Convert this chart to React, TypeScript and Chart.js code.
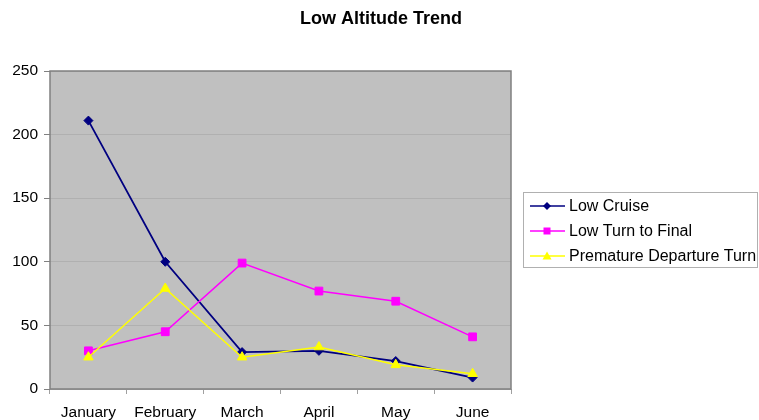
import React, { useEffect, useRef } from "react";
import { Chart, registerables } from "chart.js";

Chart.register(...registerables);

const title = "Low Altitude Trend";
const months = ["January", "February", "March", "April", "May", "June"];
const lowCruise = [211, 100, 29, 30, 22, 9];
const lowTurnToFinal = [30, 45, 99, 77, 69, 41];
const prematureDepartureTurn = [25, 79, 25, 33, 19, 12];
const seriesNames = ["Low Cruise", "Low Turn to Final", "Premature Departure Turn"];
const seriesColors = ["#000080", "#FF00FF", "#FFFF00"];
const seriesMarkers = ["rectRot", "rect", "triangle"];
const yTicks = [0, 50, 100, 150, 200, 250];

const FONT = '"Liberation Sans", Arial, sans-serif';

export default function App() {
  const ref = useRef<HTMLCanvasElement | null>(null);

  useEffect(() => {
    const canvas = ref.current;
    if (!canvas) return;

    const decor = {
      id: "decor",
      beforeDraw(chart: any) {
        const { ctx, chartArea: a } = chart;
        ctx.save();
        ctx.fillStyle = "#ffffff";
        ctx.fillRect(0, 0, chart.width, chart.height);
        ctx.fillStyle = "#C0C0C0";
        ctx.fillRect(a.left, a.top, a.right - a.left, a.bottom - a.top);
        ctx.restore();
      },
      beforeDatasetsDraw(chart: any) {
        const { ctx, chartArea: a } = chart;
        ctx.save();
        ctx.strokeStyle = "#808080";
        ctx.lineWidth = 1.5;
        ctx.strokeRect(a.left, a.top, a.right - a.left, a.bottom - a.top);
        ctx.restore();
      },
      afterDraw(chart: any) {
        const { ctx } = chart;
        ctx.save();
        // title
        ctx.fillStyle = "#000";
        ctx.font = "bold 18px " + FONT;
        ctx.textAlign = "center";
        ctx.textBaseline = "middle";
        ctx.fillText(title, 381, 19);
        // legend
        const lx = 523.5, ly = 192.5, lw = 234, lh = 75;
        ctx.strokeStyle = "#b0b0b0";
        ctx.lineWidth = 1;
        ctx.strokeRect(lx, ly, lw, lh);
        ctx.font = "16px " + FONT;
        ctx.textAlign = "left";
        const rows = [206, 231, 256];
        chart.data.datasets.forEach((ds: any, i: number) => {
          const y = rows[i];
          ctx.strokeStyle = ds.borderColor;
          ctx.lineWidth = 1.5;
          ctx.beginPath();
          ctx.moveTo(530, y);
          ctx.lineTo(565, y);
          ctx.stroke();
          ctx.fillStyle = ds.pointBackgroundColor;
          const m = ds.pointStyle;
          ctx.beginPath();
          if (m === "rectRot") {
            ctx.moveTo(547, y - 4); ctx.lineTo(551, y); ctx.lineTo(547, y + 4); ctx.lineTo(543, y);
          } else if (m === "rect") {
            ctx.rect(543.5, y - 3.5, 7, 7);
          } else {
            ctx.moveTo(547, y - 4.5); ctx.lineTo(551.5, y + 3.5); ctx.lineTo(542.5, y + 3.5);
          }
          ctx.closePath();
          ctx.fill();
          ctx.fillStyle = "#000";
          ctx.textBaseline = "middle";
          ctx.fillText(ds.label, 569, y + 1);
        });
        ctx.restore();
      },
    };

    const datasets = [lowCruise, lowTurnToFinal, prematureDepartureTurn].map((d, i) => ({
      label: seriesNames[i],
      data: d,
      borderColor: seriesColors[i],
      backgroundColor: seriesColors[i],
      pointBackgroundColor: seriesColors[i],
      pointBorderColor: seriesColors[i],
      pointStyle: seriesMarkers[i],
      pointRadius: i === 0 ? 4.5 : i === 1 ? 5.5 : 5.5,
      borderWidth: i === 0 ? 1.8 : 1.5,
      pointBorderWidth: 1,
      tension: 0,
      order: 2 - i,
    }));

    const chart = new Chart(canvas, {
      type: "line",
      data: { labels: months, datasets },
      plugins: [decor],
      options: {
        animation: false,
        responsive: false,
        devicePixelRatio: 1,
        layout: { padding: { top: 71, right: 248, left: 0, bottom: 0 } },
        plugins: {
          legend: { display: false },
          title: { display: false },
          tooltip: { enabled: false },
        },
        scales: {
          x: {
            type: "category",
            offset: true,
            afterFit(scale: any) { scale.height = 31; },
            grid: {
              offset: true,
              drawOnChartArea: false,
              drawTicks: true,
              tickLength: 5,
              color: "#a0a0a0",
            },
            border: { display: false },
            ticks: {
              color: "#000",
              font: { family: FONT, size: 15.5 },
              padding: 9,
              maxRotation: 0,
              autoSkip: false,
            },
          },
          y: {
            min: 0,
            max: 250,
            afterFit(scale: any) { scale.width = 50; },
            afterBuildTicks(scale: any) { scale.ticks = yTicks.map((v) => ({ value: v })); },
            grid: {
              color: "#b0b0b0",
              lineWidth: 1,
              drawTicks: true,
              tickLength: 6,
              tickColor: "#808080",
            },
            border: { display: false },
            ticks: {
              color: "#000",
              font: { family: FONT, size: 15.5 },
              padding: 6,
            },
          },
        },
      },
    });
    return () => chart.destroy();
  }, []);

  return (
    <div style={{ position: "fixed", left: 0, top: 0, width: 759, height: 420, background: "#fff" }}>
      <canvas ref={ref} width={759} height={420} style={{ display: "block" }} />
    </div>
  );
}
